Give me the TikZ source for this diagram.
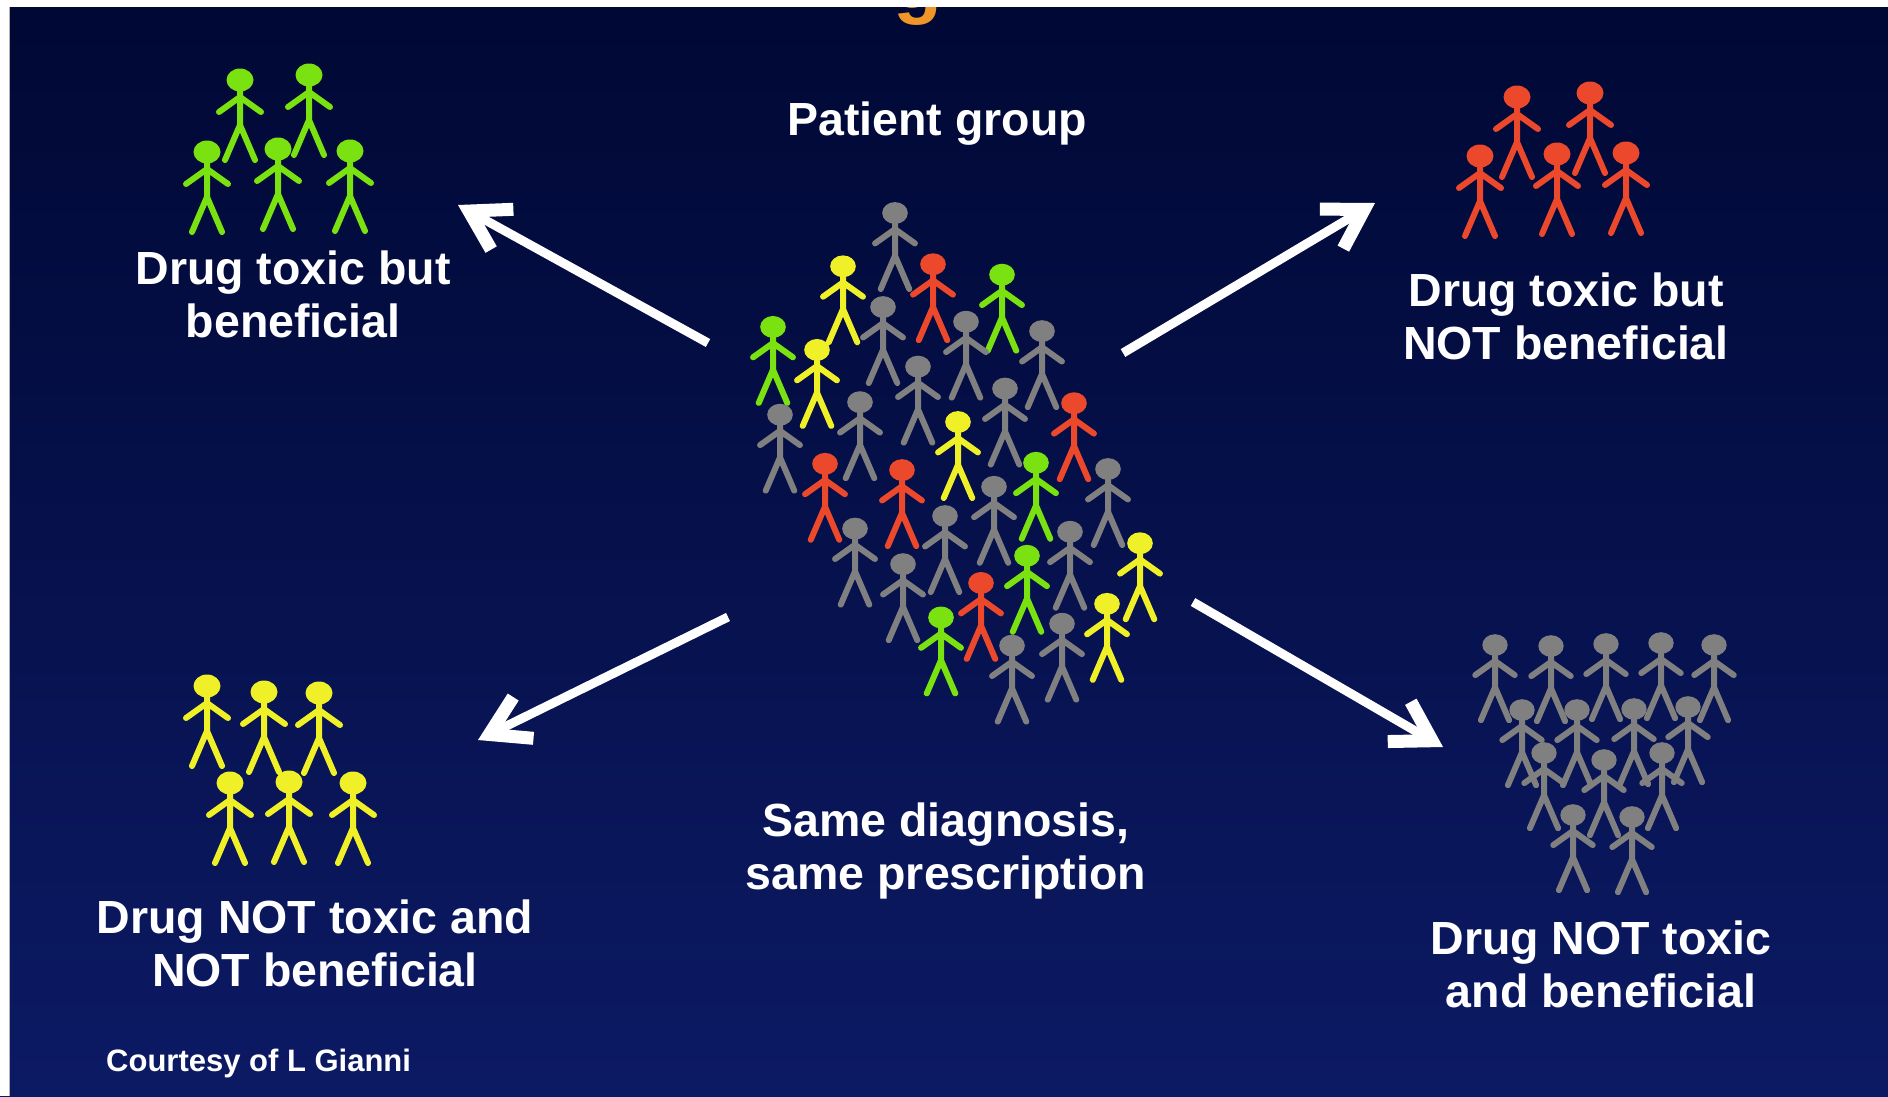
\documentclass[tikz,border=0pt]{standalone}
\usepackage{fontspec}
\setmainfont{Liberation Sans}
\usetikzlibrary{arrows.meta}
\definecolor{bgtop}{RGB}{0,8,52}
\definecolor{bgbot}{RGB}{12,26,100}
\definecolor{grn}{RGB}{122,226,16}
\definecolor{ylw}{RGB}{240,240,40}
\definecolor{rd}{RGB}{236,72,44}
\definecolor{gry}{RGB}{128,128,128}
\definecolor{ttl}{RGB}{240,150,40}
\begin{document}
\begin{tikzpicture}[x=1pt,y=-1pt,
  person/.pic={
    \fill (0,0) ellipse [x radius=13.5, y radius=11.5];
    \draw[line width=6, line cap=round, line join=round]
      (0,8) -- (0,45)
      (-21,32) -- (0,17) -- (21,32)
      (-15,80) -- (0,45) -- (15,80);
  },
  lbl/.style={text=white, inner sep=0, align=center,
    font=\fontsize{46.5}{52.5}\selectfont\bfseries},
  bigarrow/.style={draw=white, line width=9, line cap=butt,
    -{Straight Barb[length=38pt, width=46pt, line width=13pt]}}]
\useasboundingbox (0,0) rectangle (1888,1096);
\clip (0,0) rectangle (1888,1096);
% slide background
\shade[top color=bgtop, bottom color=bgbot] (0,0) rectangle (1888,1096);
% descender of the title, mostly above the frame
\node[text=ttl, inner sep=0, anchor=base, font=\fontsize{80}{90}\selectfont\bfseries] (titleg) at (918,8) {g};
\fill[white] (0,0) rectangle (1888,7);
\fill[white] (0,0) rectangle (8.5,1096);
\draw[gray!60, line width=1.2] (9.1,7) -- (9.1,1096);

% top-left group: toxic but beneficial
\foreach \x/\y in {240/80, 309/75, 207/152, 278/149, 350/151}
  \pic[color=grn] at (\x,\y) {person};
% top-right group: toxic, not beneficial
\foreach \x/\y in {1517/97, 1590/93, 1480/156, 1557/154, 1626/153}
  \pic[color=rd] at (\x,\y) {person};
% bottom-left group: not toxic, not beneficial
\foreach \x/\y in {207/686, 264/692, 319/693, 230/783, 289/782, 353/783}
  \pic[color=ylw] at (\x,\y) {person};
% bottom-right group: not toxic and beneficial
\foreach \x/\y in {1495/645, 1551/646, 1606/644, 1661/643, 1714/645,
                   1522/710, 1577/710, 1634/709, 1688/707,
                   1544/753, 1604/760, 1662/753,
                   1573/815, 1632/817}
  \pic[color=gry, scale=.94] at (\x,\y) {person};

% the mixed patient group (rows spread slightly downwards)
\foreach \x/\yy/\c in {895/213/gry, 843/264/ylw, 933/262/rd, 1002/272/grn,
    773/322/grn, 883/303/gry, 966/317/gry, 1042/326/gry, 817/344/ylw,
    918/360/gry, 860/394/gry, 1005/381/gry, 1074/395/rd, 780/406/gry,
    958/413/ylw, 825/453/rd, 902/459/rd, 1036/452/grn, 1108/458/gry,
    994/475/gry, 855/515/gry, 945/503/gry, 1070/518/gry, 1140/529/ylw,
    903/549/gry, 1027/541/grn, 981/567/rd, 941/600/grn, 1107/587/ylw,
    1062/606/gry, 1012/627/gry}
{
  \pgfmathsetmacro\y{213+(\yy-213)*1.045}
  \pic[color=\c, scale=.95] at (\x,\y) {person};
}

% arrows out of the patient group
\coordinate (ulS) at (708,343);  \coordinate (ulE) at (458,205);
\coordinate (urS) at (1123,353); \coordinate (urE) at (1375,203);
\coordinate (llS) at (728,617);  \coordinate (llE) at (478,740);
\coordinate (lrS) at (1193,602); \coordinate (lrE) at (1443,747);
\draw[bigarrow] (ulS) -- (ulE);
\draw[bigarrow] (urS) -- (urE);
\draw[bigarrow] (llS) -- (llE);
\draw[bigarrow] (lrS) -- (lrE);

% labels (base anchor sits on the last line)
\node[lbl, anchor=base] (patient) at (937,135) {Patient group};
\node[lbl, anchor=base] (tl) at (293,337) {Drug toxic but\\beneficial};
\node[lbl, anchor=base] (tr) at (1566,359) {Drug toxic but\\NOT beneficial};
\node[lbl, anchor=base] (bc) at (946,889) {Same diagnosis,\\same prescription};
\node[lbl, anchor=base] (bl) at (315,986) {Drug NOT toxic and\\NOT beneficial};
\node[lbl, anchor=base] (br) at (1601,1007) {Drug NOT toxic\\and beneficial};
\node[text=white, inner sep=0, anchor=base west,
  font=\fontsize{31}{36}\selectfont\bfseries] (credit) at (106,1071) {Courtesy of L Gianni};
\end{tikzpicture}
\end{document}
